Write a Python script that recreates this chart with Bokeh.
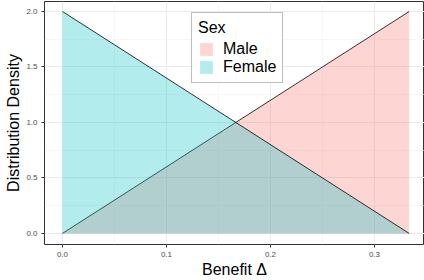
from bokeh.plotting import figure
from bokeh.models import Range1d, FixedTicker, Legend, LegendItem
from bokeh.embed import file_html
from bokeh.resources import INLINE

benefit = [0.0, 1/3]
male_density = [0.0, 2.0]
female_density = [2.0, 0.0]
x_ticks = [0.0, 0.1, 0.2, 0.3]
x_minor = [0.05, 0.15, 0.25]
y_ticks = [0.0, 0.5, 1.0, 1.5, 2.0]
y_minor = [0.25, 0.75, 1.25, 1.75]

FONT = "Liberation Sans"
X_MIN, X_MAX = -0.0173, 0.3481

p = figure(width=424, height=280, output_backend="svg", toolbar_location=None,
           x_range=Range1d(X_MIN, X_MAX), y_range=Range1d(-0.1, 2.09),
           min_border_left=44, min_border_right=0, min_border_top=1, min_border_bottom=0)
p.background_fill_color = "white"
p.border_fill_color = "white"
p.outline_line_color = "#333333"
p.outline_line_width = 1

for ax, ticks, minor in ((p.xaxis[0], x_ticks, x_minor), (p.yaxis[0], y_ticks, y_minor)):
    ax.ticker = FixedTicker(ticks=ticks, minor_ticks=minor)
    ax.axis_line_color = None
    ax.major_tick_line_color = "#333333"
    ax.major_tick_out = 3
    ax.major_tick_in = 0
    ax.minor_tick_line_color = None
    ax.major_label_text_font = FONT
    ax.major_label_text_font_size = "8px"
    ax.major_label_text_color = "#4D4D4D"
    ax.major_label_standoff = 3
    ax.axis_label_text_font = FONT
    ax.axis_label_text_font_size = "16px"
    ax.axis_label_text_font_style = "normal"
    ax.axis_label_text_color = "black"
    ax.axis_label_standoff = 1

p.xaxis[0].axis_label = "Benefit Δ"
p.yaxis[0].axis_label = "Distribution Density"
p.xaxis[0].major_label_overrides = {0.0: "0.0", 0.1: "0.1", 0.2: "0.2", 0.3: "0.3"}
p.yaxis[0].major_label_overrides = {0.0: "0.0", 0.5: "0.5", 1.0: "1.0", 1.5: "1.5", 2.0: "2.0"}

for g in (p.xgrid[0], p.ygrid[0]):
    g.grid_line_color = "#EBEBEB"
    g.grid_line_width = 1
    g.minor_grid_line_color = "#F2F2F2"
    g.minor_grid_line_width = 0.6

male = p.varea(x=benefit, y1=[0, 0], y2=male_density, fill_color="#F8766D", fill_alpha=0.3)
p.line(benefit, male_density, line_color="black", line_width=0.8)
female = p.varea(x=benefit, y1=[0, 0], y2=female_density, fill_color="#00BFC4", fill_alpha=0.3)
p.line(benefit, female_density, line_color="black", line_width=0.8)

legend = Legend(items=[LegendItem(label="Male", renderers=[male]),
                       LegendItem(label="Female", renderers=[female])],
                location=(147, 161))
legend.title = "Sex"
legend.title_text_font = FONT
legend.title_text_font_size = "16px"
legend.title_text_font_style = "normal"
legend.title_text_color = "black"
legend.title_standoff = 3
legend.label_text_font = FONT
legend.label_text_font_size = "16px"
legend.label_text_color = "black"
legend.label_height = 16
legend.glyph_height = 16
legend.glyph_width = 16
legend.spacing = 0
legend.padding = 6
legend.margin = 0
legend.label_standoff = 9
legend.border_line_color = "#7F7F7F"
legend.border_line_width = 1
legend.background_fill_alpha = 1
p.add_layout(legend, "center")

open("out.html", "w").write(file_html(p, INLINE))
